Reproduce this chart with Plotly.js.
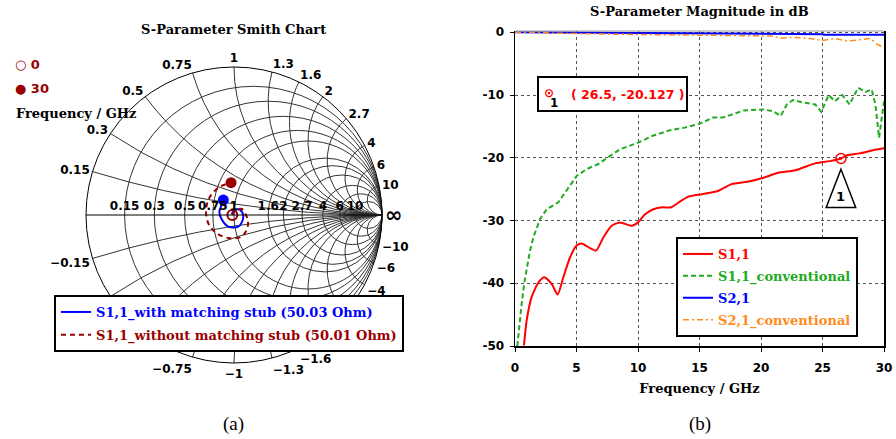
<!DOCTYPE html>
<html><head><meta charset="utf-8">
<script src="https://cdn.plot.ly/plotly-3.0.1.min.js"></script>
<style>html,body{margin:0;padding:0;background:#fff}#chart{width:896px;height:439px}</style>
</head><body><div id="chart"></div>
<script>
// ---------- Smith chart (normalized impedance z = r + jx) ----------
const realTicks = [0.15, 0.3, 0.5, 0.75, 1, 1.6, 2, 2.7, 4, 6, 10];
const imagTicks = [-10, -6, -4, -2.7, -2, -1.6, -1.3, -1, -0.75, -0.5, -0.3, -0.15, 0.15, 0.3, 0.5, 0.75, 1, 1.3, 1.6, 2, 2.7, 4, 6, 10];
const stubReal = [0.968, 1.012, 1.083, 1.134, 1.103, 1.046, 0.916, 0.845, 0.819, 0.839, 0.849];
const stubImag = [0.010, 0.069, 0.074, -0.016, -0.115, -0.166, -0.146, -0.049, 0.036, 0.115, 0.174];
const noStubReal = [0.978, 1.026, 1.110, 1.176, 1.204, 1.169, 1.059, 0.903, 0.769, 0.701, 0.681, 0.701, 0.773, 0.875];
const noStubImag = [0.000, 0.070, 0.091, 0.000, -0.110, -0.226, -0.315, -0.291, -0.196, -0.083, 0.048, 0.181, 0.309, 0.401];
const smithNames = ['S1,1_with matching stub (50.03 Ohm)', 'S1,1_without matching stub (50.01 Ohm)'];
const freqLabels = ['0', '30'];

// ---------- S-parameter magnitude (dB) ----------
const fS11 = [0.73, 0.95, 1.35, 1.9, 2.38, 2.98, 3.47, 3.93, 4.47, 5.01, 5.42, 6.1, 6.59, 7.18, 7.86, 8.54, 9.49, 10.0, 10.57, 11.25, 12.0, 12.7, 13.4, 14.1, 15.2, 16.5, 17.6, 19.0, 20.2, 21.4, 22.8, 24.4, 25.7, 26.5, 27.0, 28.0, 29.1, 30];
const s11 = [-49.9, -45.9, -42.2, -39.9, -39.05, -40.1, -41.8, -39.05, -35.9, -34.0, -33.65, -34.4, -34.8, -32.7, -30.85, -30.3, -30.85, -30.3, -29.0, -28.2, -27.9, -27.9, -27.0, -26.2, -25.8, -25.3, -24.2, -23.8, -23.2, -22.4, -22.0, -20.9, -20.5, -20.127, -19.6, -19.3, -18.8, -18.5];
const fS11c = [0.19, 0.35, 0.54, 0.75, 0.95, 1.2, 1.49, 2.03, 2.57, 3.52, 4.34, 5.01, 5.83, 6.78, 7.59, 8.54, 10.0, 11.2, 12.6, 13.8, 15.0, 16.1, 16.9, 18.6, 20.2, 21.0, 21.6, 22.1, 22.6, 23.4, 24.4, 24.9, 25.5, 26.0, 26.6, 27.2, 27.9, 28.5, 29.0, 29.3, 29.6, 29.8, 30];
const s11c = [-50, -46.5, -43.3, -40, -37.5, -35, -32.7, -29.8, -28.2, -27.1, -24.8, -22.9, -21.8, -21.0, -19.9, -18.65, -17.6, -16.5, -15.6, -15.2, -14.6, -13.6, -13.6, -12.45, -12.3, -12.6, -13.35, -11.5, -10.8, -11.2, -11.5, -12.7, -10.0, -11.0, -10.0, -11.5, -8.85, -9.5, -9.1, -11.5, -16.8, -14.2, -11];
const fS21 = [0, 2, 4, 6, 8, 10, 12, 14, 16, 18, 20, 22, 24, 25, 25.1, 27, 30];
const s21 = [0, -0.02, -0.1, -0.12, -0.15, -0.18, -0.2, -0.22, -0.25, -0.27, -0.3, -0.3, -0.3, -0.3, -0.4, -0.4, -0.4];
const fS21c = [0, 2, 3, 5, 8, 10, 14, 18, 20, 21, 21.5, 22.5, 24, 25, 26, 27, 28, 28.9, 29.5, 30];
const s21c = [0, 0, -0.15, -0.25, -0.3, -0.35, -0.4, -0.45, -0.5, -0.6, -0.95, -0.8, -1.0, -1.3, -1.0, -1.4, -1.2, -1.0, -2.0, -2.4];
const lineNames = ['S1,1', 'S1,1_conventional', 'S2,1', 'S2,1_conventional'];
const markerF = [26.5];
const markerDb = [-20.127];
const xTickVals = [0, 5, 10, 15, 20, 25, 30];
const yTickVals = [0, -10, -20, -30, -40, -50];
const yTickText = ['0', '-10', '-20', '-30', '-40', '-50'];

const DARKRED = '#990000', BLUE = '#0000ff', RED = '#ff0000', GREEN = '#22aa22', ORANGE = '#ff8c1a';
const serifB = {family: 'DejaVu Serif', size: 13, weight: 'bold', color: '#000'};
const titleF = {family: 'DejaVu Serif', size: 13, weight: 'bold', color: '#000'};
const sansB = {family: 'DejaVu Sans', size: 12, weight: 'bold', color: '#000'};
const col = (c, t) => '<span style="color:' + c + '">' + t + '</span>';

const traces = [
  {type: 'scattersmith', real: stubReal, imag: stubImag, mode: 'lines', name: col(BLUE, smithNames[0]),
   line: {color: BLUE, width: 2, shape: 'spline'}, legend: 'legend', legendgroup: 'a'},
  {type: 'scattersmith', real: noStubReal, imag: noStubImag, mode: 'lines', name: col(DARKRED, smithNames[1]),
   line: {color: DARKRED, width: 2, dash: '5px,4px', shape: 'spline'}, legend: 'legend', legendgroup: 'b'},
  {type: 'scattersmith', real: [noStubReal[0]], imag: [noStubImag[0]], mode: 'markers', showlegend: false,
   marker: {symbol: 'circle-open', size: 10, color: DARKRED, line: {width: 2, color: DARKRED}}},
  {type: 'scattersmith', real: [noStubReal[noStubReal.length - 1]], imag: [noStubImag[noStubImag.length - 1]], mode: 'markers', showlegend: false,
   marker: {symbol: 'circle', size: 11, color: DARKRED}},
  {type: 'scattersmith', real: [stubReal[stubReal.length - 1]], imag: [stubImag[stubImag.length - 1]], mode: 'markers', showlegend: false,
   marker: {symbol: 'circle', size: 11, color: BLUE}},

  {type: 'scatter', x: fS11, y: s11, mode: 'lines', name: col(RED, lineNames[0]), line: {color: RED, width: 2, shape: 'spline', smoothing: 0.6}, legend: 'legend2', legendgroup: 'c'},
  {type: 'scatter', x: fS11c, y: s11c, mode: 'lines', name: col(GREEN, lineNames[1]), line: {color: GREEN, width: 2, dash: '5px,3px'}, legend: 'legend2', legendgroup: 'd'},
  {type: 'scatter', x: fS21, y: s21, mode: 'lines', name: col(BLUE, lineNames[2]), line: {color: BLUE, width: 2}, legend: 'legend2', legendgroup: 'e'},
  {type: 'scatter', x: fS21c, y: s21c, mode: 'lines', name: col(ORANGE, lineNames[3]), line: {color: ORANGE, width: 1.5, dash: '6px,3px,2px,3px'}, legend: 'legend2', legendgroup: 'f'},
  {type: 'scatter', x: markerF, y: markerDb, mode: 'markers', showlegend: false,
   marker: {symbol: 'circle-open-dot', size: 10, color: RED, line: {width: 1.5, color: RED}}}
];

const W = 896, H = 439;
const px = v => v / W, py = v => 1 - v / H;
const mf = markerF[0], md = markerDb[0];
const ann = (x, y, text, font, extra) => Object.assign({xref: 'paper', yref: 'paper', x: px(x), y: py(y), text: text,
  showarrow: false, xanchor: 'center', yanchor: 'middle', font: font}, extra || {});

const layout = {
  width: W, height: H, autosize: false,
  margin: {l: 0, r: 0, t: 0, b: 0},
  paper_bgcolor: '#fff', plot_bgcolor: '#fff',
  showlegend: true,
  smith: {
    domain: {x: [px(86), px(382)], y: [py(363), py(67)]},
    bgcolor: '#fff',
    realaxis: {tickvals: realTicks, tickangle: 0, gridcolor: '#333', gridwidth: 1, linecolor: '#000', linewidth: 1,
               tickfont: sansB, ticks: '', side: 'top'},
    imaginaryaxis: {tickvals: imagTicks, gridcolor: '#333', gridwidth: 1, linecolor: '#000', linewidth: 1,
                    tickfont: sansB, ticks: ''}
  },
  xaxis: {domain: [px(515), px(884)], range: [0, 30], tickvals: xTickVals, ticks: 'outside', ticklen: 4, tickcolor: '#000',
          showline: true, linecolor: '#000', linewidth: 1.5, showgrid: true, gridcolor: '#555', griddash: 'dot', gridwidth: 1,
          zeroline: false, tickfont: sansB, anchor: 'y', ticklabelstandoff: 6,
          title: {text: 'Frequency / GHz', font: serifB, standoff: 10}},
  yaxis: {domain: [py(346), py(31)], range: [-50, 0.2], tickvals: yTickVals, ticktext: yTickText, ticks: 'outside', ticklen: 4,
          tickcolor: '#000', showline: true, mirror: true, linecolor: '#000', linewidth: 1.5, showgrid: true, gridcolor: '#555',
          griddash: 'dot', gridwidth: 1, zeroline: false, tickfont: sansB, anchor: 'x', ticklabelstandoff: 3},
  legend: {x: px(54), y: py(295), xanchor: 'left', yanchor: 'top', bgcolor: '#fff', bordercolor: '#000', borderwidth: 2,
           font: serifB, tracegroupgap: 3, traceorder: 'grouped'},
  legend2: {x: px(676), y: py(237), xanchor: 'left', yanchor: 'top', bgcolor: '#fff', bordercolor: '#000', borderwidth: 2,
            font: serifB, tracegroupgap: 2, traceorder: 'grouped'},
  shapes: [
    {type: 'line', xref: 'x domain', yref: 'y domain', x0: 0, x1: 1, y0: 1, y1: 1, line: {color: '#999', width: 1}},
    {type: 'rect', xref: 'paper', yref: 'paper', x0: px(538), x1: px(687), y0: py(111), y1: py(77),
     line: {color: '#000', width: 2}, fillcolor: '#fff'},
    {type: 'path', xref: 'x', yref: 'y', path: 'M ' + mf + ',' + (md - 1.7) + ' L ' + (mf - 1.2) + ',' + (md - 7.8) + ' L ' + (mf + 1.2) + ',' + (md - 7.8) + ' Z',
     line: {color: '#000', width: 1.5}}
  ],
  annotations: [
    ann(233, 29, 'S-Parameter Smith Chart', titleF),
    ann(699, 12, 'S-Parameter Magnitude in dB', titleF),
    ann(13, 65, '○ ' + freqLabels[0], {family: 'DejaVu Sans', size: 13, weight: 'bold', color: DARKRED}, {xanchor: 'left'}),
    ann(13, 88, '● ' + freqLabels[1], {family: 'DejaVu Sans', size: 13, weight: 'bold', color: DARKRED}, {xanchor: 'left'}),
    ann(14, 113, 'Frequency / GHz', {family: 'DejaVu Serif', size: 13, weight: 'bold', color: '#000'}, {xanchor: 'left'}),
    ann(233, 424, '(a)', {family: 'Liberation Serif', size: 19, color: '#000'}),
    ann(700, 424, '(b)', {family: 'Liberation Serif', size: 19, color: '#000'}),
    ann(549, 93, '⊙', {family: 'DejaVu Sans', size: 12, weight: 'bold', color: RED}),
    ann(554, 103, '1', {family: 'DejaVu Sans', size: 12, weight: 'bold', color: '#000'}),
    ann(569, 94, '( ' + mf + ', ' + md + ' )', {family: 'DejaVu Sans', size: 12.5, weight: 'bold', color: RED}, {xanchor: 'left'}),
    {xref: 'x', yref: 'y', x: mf, y: md - 6.0, text: '1', showarrow: false, xanchor: 'center',
     font: {family: 'DejaVu Sans', size: 13, weight: 'bold', color: '#000'}}
  ]
};

Plotly.newPlot('chart', traces, layout, {staticPlot: true, displayModeBar: false});
</script>
</body></html>
